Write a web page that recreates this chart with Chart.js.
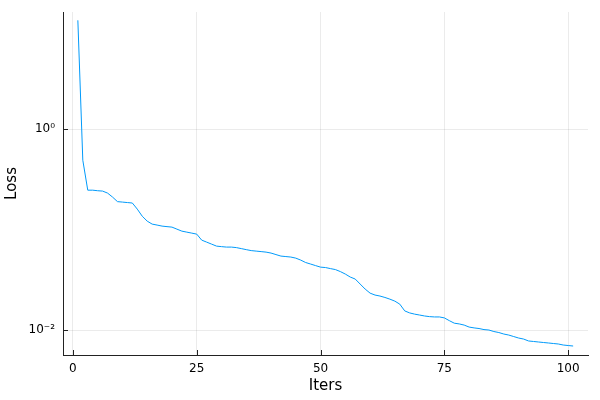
<!DOCTYPE html>
<html>
<head>
<meta charset="utf-8">
<script src="https://cdn.jsdelivr.net/npm/chart.js@4"></script>
<style>
  html, body { margin: 0; padding: 0; background: #fff; }
  #wrap { width: 600px; height: 400px; }
</style>
</head>
<body>
<div id="wrap"><canvas id="chartLoss"></canvas></div>
<script>
const iters = [
  1, 2, 3, 4, 5, 6, 7, 8, 9, 10, 11, 12, 13, 14, 15, 16, 17, 18, 19, 20,
  21, 22, 23, 24, 25, 26, 27, 28, 29, 30, 31, 32, 33, 34, 35, 36, 37, 38, 39, 40,
  41, 42, 43, 44, 45, 46, 47, 48, 49, 50, 51, 52, 53, 54, 55, 56, 57, 58, 59, 60,
  61, 62, 63, 64, 65, 66, 67, 68, 69, 70, 71, 72, 73, 74, 75, 76, 77, 78, 79, 80,
  81, 82, 83, 84, 85, 86, 87, 88, 89, 90, 91, 92, 93, 94, 95, 96, 97, 98, 99, 100,
  101,
];

const loss = [
  12.15, 0.491, 0.247, 0.247, 0.244, 0.242, 0.231, 0.211, 0.190, 0.188,
  0.186, 0.184, 0.160, 0.136, 0.1215, 0.1135, 0.111, 0.1084, 0.1071, 0.1059,
  0.1011, 0.0966, 0.0944, 0.0923, 0.0902, 0.0786, 0.0751, 0.0717, 0.0685, 0.0677,
  0.0670, 0.0670, 0.0662, 0.0647, 0.0632, 0.0618, 0.0611, 0.0604, 0.0597, 0.0584,
  0.0564, 0.0545, 0.0539, 0.0533, 0.0520, 0.0497, 0.0470, 0.0454, 0.0438, 0.0423,
  0.0419, 0.0409, 0.0400, 0.0382, 0.0361, 0.0337, 0.0322, 0.0287, 0.0256, 0.0233,
  0.0223, 0.0218, 0.0211, 0.0203, 0.0194, 0.0181, 0.0155, 0.0148, 0.0144, 0.0141,
  0.0138, 0.0136, 0.0135, 0.0135, 0.0132, 0.0124, 0.0117, 0.0115, 0.0112, 0.0107,
  0.0105, 0.01035, 0.0101, 0.0100, 0.00966, 0.00944, 0.00912, 0.00891, 0.00861, 0.00832,
  0.00813, 0.00778, 0.00769, 0.00760, 0.00751, 0.00743, 0.00734, 0.00726, 0.00709, 0.00701,
  0.00693,
];

const xTicks = [0, 25, 50, 75, 100];
const yTicks = [0.01, 1];
const yTickLabels = { 0.01: "10\u207B\u00B2", 1: "10\u2070" };

const FONT = "'DejaVu Sans', sans-serif";
const AXIS = "#222";
const GRID = "rgba(0,0,0,0.08)";

// Plots.jl style: tick marks point into the plot area
const innerTicks = {
  id: "innerTicks",
  afterDraw(chart) {
    const { ctx, chartArea, scales } = chart;
    ctx.save();
    ctx.strokeStyle = AXIS;
    ctx.lineWidth = 1;
    ctx.beginPath();
    scales.x.ticks.forEach((t) => {
      const px = Math.round(scales.x.getPixelForValue(t.value)) + 0.5;
      ctx.moveTo(px, chartArea.bottom);
      ctx.lineTo(px, chartArea.bottom - 5);
    });
    scales.y.ticks.forEach((t) => {
      const py = Math.round(scales.y.getPixelForValue(t.value)) + 0.5;
      ctx.moveTo(chartArea.left, py);
      ctx.lineTo(chartArea.left + 5, py);
    });
    ctx.stroke();
    ctx.restore();
  },
};

new Chart(document.getElementById("chartLoss").getContext("2d"), {
  type: "line",
  data: {
    datasets: [{
      data: iters.map((x, i) => ({ x, y: loss[i] })),
      borderColor: "#009AFA",
      borderWidth: 1,
      pointRadius: 0,
      tension: 0,
      fill: false,
    }],
  },
  options: {
    responsive: true,
    maintainAspectRatio: false,
    animation: false,
    layout: { padding: { top: 12, right: 12, left: 0, bottom: 0 } },
    plugins: { legend: { display: false }, tooltip: { enabled: false } },
    scales: {
      x: {
        type: "linear",
        min: -2,
        max: 104,
        afterBuildTicks: (s) => { s.ticks = xTicks.map((v) => ({ value: v })); },
        afterFit: (s) => { s.height = 45; },
        grid: { color: GRID, drawTicks: false },
        border: { display: true, color: AXIS, width: 1 },
        ticks: { color: "#000", font: { family: FONT, size: 12 }, padding: 7, maxRotation: 0 },
        title: {
          display: true,
          text: "Iters",
          color: "#000",
          font: { family: FONT, size: 15 },
          padding: { top: 0, bottom: 5 },
        },
      },
      y: {
        type: "logarithmic",
        min: 0.00564,
        max: 14.7,
        afterBuildTicks: (s) => { s.ticks = yTicks.map((v) => ({ value: v })); },
        afterFit: (s) => {
          s.width = 63;
          s.paddingTop = 0;
          s.paddingBottom = 0;
        },
        grid: { color: GRID, drawTicks: false },
        border: { display: true, color: AXIS, width: 1 },
        ticks: {
          color: "#000",
          font: { family: FONT, size: 12 },
          padding: 8,
          callback: (v) => yTickLabels[v] ?? "",
        },
        title: {
          display: true,
          text: "Loss",
          color: "#000",
          font: { family: FONT, size: 15 },
          padding: { top: 3, bottom: 0 },
        },
      },
    },
  },
  plugins: [innerTicks],
});
</script>
</body>
</html>
